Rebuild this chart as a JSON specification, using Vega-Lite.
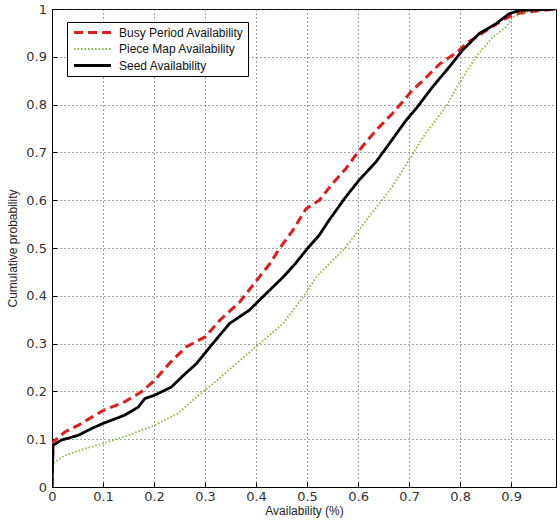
{
  "$schema": "https://vega.github.io/schema/vega-lite/v6.json",
  "autosize": "none",
  "width": 504,
  "height": 478,
  "padding": {"left": 52, "top": 9, "right": 4, "bottom": 33},
  "background": "white",
  "config": {
    "font": "Liberation Sans",
    "view": {"stroke": "black", "strokeWidth": 1},
    "axis": {
      "labelFont": "DejaVu Sans",
      "labelFontSize": 13,
      "labelColor": "#333",
      "labelFlush": false,
      "labelOverlap": false,
      "titleFont": "Liberation Sans",
      "titleFontSize": 12,
      "titleFontWeight": "normal",
      "titleColor": "#222",
      "domainColor": "black",
      "tickColor": "black",
      "tickSize": -5,
      "grid": true,
      "gridColor": "#444",
      "gridDash": [1, 3],
      "gridOpacity": 1,
      "gridWidth": 1
    },
    "legend": {
      "labelFont": "Liberation Sans",
      "labelFontSize": 12,
      "labelColor": "#111"
    }
  },
  "data": {
    "values": [
      {"series": "Busy Period Availability", "x": 0, "y": 0},
      {"series": "Busy Period Availability", "x": 0.002, "y": 0.094},
      {"series": "Busy Period Availability", "x": 0.025, "y": 0.115},
      {"series": "Busy Period Availability", "x": 0.051, "y": 0.129},
      {"series": "Busy Period Availability", "x": 0.1, "y": 0.16},
      {"series": "Busy Period Availability", "x": 0.142, "y": 0.178},
      {"series": "Busy Period Availability", "x": 0.175, "y": 0.199},
      {"series": "Busy Period Availability", "x": 0.201, "y": 0.223},
      {"series": "Busy Period Availability", "x": 0.233, "y": 0.262},
      {"series": "Busy Period Availability", "x": 0.263, "y": 0.293},
      {"series": "Busy Period Availability", "x": 0.3, "y": 0.314},
      {"series": "Busy Period Availability", "x": 0.329, "y": 0.349},
      {"series": "Busy Period Availability", "x": 0.368, "y": 0.387},
      {"series": "Busy Period Availability", "x": 0.401, "y": 0.432},
      {"series": "Busy Period Availability", "x": 0.427, "y": 0.467},
      {"series": "Busy Period Availability", "x": 0.446, "y": 0.499},
      {"series": "Busy Period Availability", "x": 0.472, "y": 0.537},
      {"series": "Busy Period Availability", "x": 0.498, "y": 0.582},
      {"series": "Busy Period Availability", "x": 0.524, "y": 0.6},
      {"series": "Busy Period Availability", "x": 0.55, "y": 0.635},
      {"series": "Busy Period Availability", "x": 0.576, "y": 0.666},
      {"series": "Busy Period Availability", "x": 0.602, "y": 0.704},
      {"series": "Busy Period Availability", "x": 0.635, "y": 0.746},
      {"series": "Busy Period Availability", "x": 0.667, "y": 0.781},
      {"series": "Busy Period Availability", "x": 0.69, "y": 0.809},
      {"series": "Busy Period Availability", "x": 0.706, "y": 0.83},
      {"series": "Busy Period Availability", "x": 0.725, "y": 0.848},
      {"series": "Busy Period Availability", "x": 0.76, "y": 0.885},
      {"series": "Busy Period Availability", "x": 0.795, "y": 0.91},
      {"series": "Busy Period Availability", "x": 0.811, "y": 0.927},
      {"series": "Busy Period Availability", "x": 0.837, "y": 0.945},
      {"series": "Busy Period Availability", "x": 0.863, "y": 0.963},
      {"series": "Busy Period Availability", "x": 0.889, "y": 0.98},
      {"series": "Busy Period Availability", "x": 0.909, "y": 0.99},
      {"series": "Busy Period Availability", "x": 0.942, "y": 0.995},
      {"series": "Busy Period Availability", "x": 0.987, "y": 1},
      {"series": "Piece Map Availability", "x": 0, "y": 0},
      {"series": "Piece Map Availability", "x": 0.002, "y": 0.05},
      {"series": "Piece Map Availability", "x": 0.025, "y": 0.066},
      {"series": "Piece Map Availability", "x": 0.064, "y": 0.08},
      {"series": "Piece Map Availability", "x": 0.1, "y": 0.091},
      {"series": "Piece Map Availability", "x": 0.149, "y": 0.108},
      {"series": "Piece Map Availability", "x": 0.201, "y": 0.129},
      {"series": "Piece Map Availability", "x": 0.247, "y": 0.154},
      {"series": "Piece Map Availability", "x": 0.28, "y": 0.185},
      {"series": "Piece Map Availability", "x": 0.322, "y": 0.222},
      {"series": "Piece Map Availability", "x": 0.361, "y": 0.258},
      {"series": "Piece Map Availability", "x": 0.407, "y": 0.3},
      {"series": "Piece Map Availability", "x": 0.453, "y": 0.342},
      {"series": "Piece Map Availability", "x": 0.492, "y": 0.397},
      {"series": "Piece Map Availability", "x": 0.518, "y": 0.439},
      {"series": "Piece Map Availability", "x": 0.576, "y": 0.502},
      {"series": "Piece Map Availability", "x": 0.621, "y": 0.565},
      {"series": "Piece Map Availability", "x": 0.667, "y": 0.628},
      {"series": "Piece Map Availability", "x": 0.699, "y": 0.683},
      {"series": "Piece Map Availability", "x": 0.732, "y": 0.739},
      {"series": "Piece Map Availability", "x": 0.772, "y": 0.795},
      {"series": "Piece Map Availability", "x": 0.798, "y": 0.844},
      {"series": "Piece Map Availability", "x": 0.831, "y": 0.9},
      {"series": "Piece Map Availability", "x": 0.864, "y": 0.941},
      {"series": "Piece Map Availability", "x": 0.89, "y": 0.962},
      {"series": "Piece Map Availability", "x": 0.903, "y": 0.983},
      {"series": "Piece Map Availability", "x": 0.929, "y": 0.994},
      {"series": "Piece Map Availability", "x": 0.987, "y": 1},
      {"series": "Seed Availability", "x": 0, "y": 0},
      {"series": "Seed Availability", "x": 0.002, "y": 0.087},
      {"series": "Seed Availability", "x": 0.018, "y": 0.098},
      {"series": "Seed Availability", "x": 0.051, "y": 0.108},
      {"series": "Seed Availability", "x": 0.077, "y": 0.122},
      {"series": "Seed Availability", "x": 0.1, "y": 0.133},
      {"series": "Seed Availability", "x": 0.142, "y": 0.15},
      {"series": "Seed Availability", "x": 0.169, "y": 0.167},
      {"series": "Seed Availability", "x": 0.182, "y": 0.185},
      {"series": "Seed Availability", "x": 0.201, "y": 0.192},
      {"series": "Seed Availability", "x": 0.234, "y": 0.209},
      {"series": "Seed Availability", "x": 0.258, "y": 0.234},
      {"series": "Seed Availability", "x": 0.283, "y": 0.258},
      {"series": "Seed Availability", "x": 0.315, "y": 0.3},
      {"series": "Seed Availability", "x": 0.348, "y": 0.342},
      {"series": "Seed Availability", "x": 0.387, "y": 0.37},
      {"series": "Seed Availability", "x": 0.42, "y": 0.405},
      {"series": "Seed Availability", "x": 0.453, "y": 0.439},
      {"series": "Seed Availability", "x": 0.476, "y": 0.466},
      {"series": "Seed Availability", "x": 0.5, "y": 0.498},
      {"series": "Seed Availability", "x": 0.524, "y": 0.527},
      {"series": "Seed Availability", "x": 0.543, "y": 0.558},
      {"series": "Seed Availability", "x": 0.576, "y": 0.607},
      {"series": "Seed Availability", "x": 0.602, "y": 0.642},
      {"series": "Seed Availability", "x": 0.635, "y": 0.68},
      {"series": "Seed Availability", "x": 0.661, "y": 0.718},
      {"series": "Seed Availability", "x": 0.694, "y": 0.767},
      {"series": "Seed Availability", "x": 0.714, "y": 0.792},
      {"series": "Seed Availability", "x": 0.746, "y": 0.837},
      {"series": "Seed Availability", "x": 0.779, "y": 0.879},
      {"series": "Seed Availability", "x": 0.805, "y": 0.914},
      {"series": "Seed Availability", "x": 0.838, "y": 0.949},
      {"series": "Seed Availability", "x": 0.87, "y": 0.969},
      {"series": "Seed Availability", "x": 0.896, "y": 0.99},
      {"series": "Seed Availability", "x": 0.916, "y": 0.997},
      {"series": "Seed Availability", "x": 0.987, "y": 1}
    ]
  },
  "mark": {"type": "line", "clip": true, "strokeJoin": "round"},
  "encoding": {
    "x": {
      "field": "x",
      "type": "quantitative",
      "scale": {"domain": [0, 0.988], "nice": false, "zero": false},
      "axis": {
        "title": "Availability (%)",
        "values": [0, 0.1, 0.2, 0.3, 0.4, 0.5, 0.6, 0.7, 0.8, 0.9],
        "format": ".1~f",
        "labelPadding": 8,
        "titlePadding": 2
      }
    },
    "y": {
      "field": "y",
      "type": "quantitative",
      "scale": {"domain": [0, 1], "nice": false},
      "axis": {
        "title": "Cumulative probability",
        "values": [0, 0.1, 0.2, 0.3, 0.4, 0.5, 0.6, 0.7, 0.8, 0.9, 1],
        "format": ".1~f",
        "labelPadding": 10.5,
        "titlePadding": 6
      }
    },
    "color": {
      "field": "series",
      "type": "nominal",
      "scale": {
        "domain": ["Busy Period Availability", "Piece Map Availability", "Seed Availability"],
        "range": ["#dd1c1c", "#84b83c", "#000000"]
      },
      "legend": {
        "title": null,
        "orient": "none",
        "legendX": 15,
        "legendY": 13,
        "fillColor": "white",
        "strokeColor": "black",
        "padding": 4,
        "symbolType": "M-4,0H4",
        "symbolSize": 85,
        "symbolOffset": 15,
        "rowPadding": 4,
        "labelOffset": 20
      }
    },
    "strokeDash": {
      "field": "series",
      "type": "nominal",
      "scale": {
        "domain": ["Busy Period Availability", "Piece Map Availability", "Seed Availability"],
        "range": [[9, 5], [1.5, 2], [1, 0]]
      },
      "legend": {
        "title": null,
        "orient": "none",
        "legendX": 15,
        "legendY": 13,
        "fillColor": "white",
        "strokeColor": "black",
        "padding": 4,
        "symbolType": "M-4,0H4",
        "symbolSize": 85,
        "symbolOffset": 15,
        "rowPadding": 4,
        "labelOffset": 20
      }
    },
    "strokeWidth": {
      "field": "series",
      "type": "nominal",
      "scale": {
        "type": "ordinal",
        "domain": ["Busy Period Availability", "Piece Map Availability", "Seed Availability"],
        "range": [3, 1.8, 2.8]
      },
      "legend": null
    }
  }
}
